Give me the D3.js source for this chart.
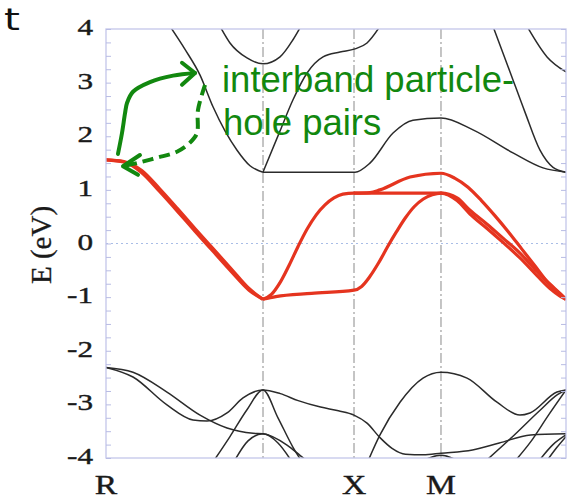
<!DOCTYPE html>
<html><head><meta charset="utf-8">
<script src="https://cdn.jsdelivr.net/npm/d3@7"></script>
<style>body{margin:0;background:#fff}</style>
</head><body><svg id="c" width="570" height="499"></svg>
<script>
// ---- data ----
const kPoints = [0, 1.7564, 2.7744, 3.7476, 5.146];          // R, Γ, X, M, Γ
const kLabels = ["R", "", "X", "M", ""];
const yTicks = [4, 3, 2, 1, 0, -1, -2, -3, -4];
const yLabels = ["4", "3", "2", "1", "0", "-1", "-2", "-3", "-4"];

const blackUpper = [
  [[0.716,4.05],[0.884,3.62],[1.052,3.14],[1.197,2.55],[1.331,2.1],[1.466,1.74],[1.611,1.45],[1.756,1.33]],
  [[1.275,4.05],[1.387,3.74],[1.577,3.46],[1.756,3.35],[1.947,3.48],[2.092,3.8],[2.17,4.02]],
  [[1.756,1.33],[1.947,2.1],[2.092,2.68],[2.249,3.18],[2.428,3.48],[2.618,3.57],[2.786,3.63],[2.92,3.74],[3.065,4.05]],
  [[1.756,1.33],[2.786,1.33],[2.953,1.5],[3.211,2.06],[3.434,2.3],[3.748,2.34],[4.106,2.12],[4.553,1.69],[4.889,1.41],[5.146,1.33]],
  [[4.329,4.05],[4.52,3.2],[4.687,2.45],[4.855,1.74],[5.001,1.42],[5.146,1.33]],
  [[4.71,4.05],[4.934,3.48],[5.146,3.2]]
];
const blackLower = [
  [[0,-2.31],[0.302,-2.49],[0.682,-3.01],[0.973,-3.29],[1.13,-3.31],[1.354,-3.16],[1.533,-2.88],[1.756,-2.73],[1.95,-2.8],[2.15,-2.93],[2.4,-3.05],[2.6,-3.12],[2.774,-3.2],[2.92,-3.35],[3.065,-3.62],[3.2,-3.82],[3.35,-3.93],[3.55,-3.94],[3.748,-3.91],[4.1,-3.85],[4.4,-3.72],[4.75,-3.57],[5.146,-3.55]],
  [[0,-2.31],[0.302,-2.4],[0.682,-2.77],[1.052,-3.2],[1.354,-3.44],[1.645,-3.54],[1.756,-3.55],[2.025,-3.76],[2.17,-3.95],[2.282,-4.1]],
  [[1.186,-4.1],[1.387,-3.6],[1.577,-3.1],[1.756,-2.73],[1.924,-3.25],[2.092,-3.8],[2.204,-4.1]],
  [[1.421,-4.1],[1.589,-3.68],[1.756,-3.55],[1.924,-3.72],[2.092,-4.1]],
  [[2.92,-4.1],[3.065,-3.57],[3.289,-2.96],[3.546,-2.51],[3.748,-2.4],[4.039,-2.51],[4.374,-2.96],[4.631,-3.2],[4.743,-3.16],[5.045,-2.77],[5.146,-2.73]],
  [[3.479,-4.1],[3.748,-3.95],[3.994,-4.1]],
  [[4.218,-4.1],[4.55,-3.6],[4.85,-3.12],[5.05,-2.82],[5.146,-2.73]],
  [[4.553,-4.1],[4.75,-3.7],[4.95,-3.2],[5.146,-2.73]],
  [[4.822,-4.1],[5.0,-3.75],[5.146,-3.57]],
  [[4.911,-4.1],[5.045,-3.8],[5.146,-3.6]]
];
const redBands = [
  [[0,1.56],[0.2,1.52],[0.4,1.32],[0.6,0.97],[0.8,0.6],[1.0,0.22],[1.2,-0.15],[1.4,-0.52],[1.6,-0.87],[1.756,-1.04]],
  [[0,1.56],[0.2,1.53],[0.4,1.36],[0.6,1.02],[0.8,0.65],[1.0,0.27],[1.2,-0.1],[1.4,-0.47],[1.6,-0.84],[1.756,-1.04]],
  [[1.756,-1.04],[1.85,-0.95],[1.95,-0.72],[2.05,-0.4],[2.15,-0.05],[2.25,0.27],[2.35,0.53],[2.45,0.72],[2.55,0.85],[2.65,0.92],[2.774,0.94],[3.748,0.94],[3.927,0.85],[4.072,0.62],[4.263,0.36],[4.441,0.1],[4.631,-0.18],[4.822,-0.52],[4.967,-0.76],[5.079,-0.93],[5.146,-1.04]],
  [[1.756,-1.04],[1.9,-0.99],[2.3,-0.93],[2.774,-0.87],[2.86,-0.8],[2.95,-0.62],[3.05,-0.36],[3.15,-0.06],[3.25,0.22],[3.35,0.48],[3.45,0.69],[3.55,0.83],[3.65,0.91],[3.748,0.94],[3.927,0.8],[4.072,0.55],[4.263,0.28],[4.441,0.02],[4.631,-0.27],[4.822,-0.6],[4.967,-0.84],[5.079,-0.98],[5.146,-1.04]],
  [[2.774,0.94],[2.953,0.95],[3.065,1.0],[3.401,1.24],[3.748,1.31],[3.9,1.22],[4.05,1.05],[4.2,0.8],[4.35,0.52],[4.5,0.22],[4.65,-0.1],[4.8,-0.42],[4.95,-0.74],[5.05,-0.9],[5.146,-1.04]]
];
const arrowSolid = [[0.134,1.67],[0.179,2.06],[0.213,2.43],[0.235,2.62],[0.302,2.83],[0.492,3.01],[0.75,3.13],[0.996,3.18]];
const arrowSolidHead = [[0.85,3.37],[0.996,3.18],[0.85,2.96]];
const arrowDashed = [[1.108,2.96],[1.029,2.49],[1.018,2.06],[0.94,1.88],[0.794,1.71],[0.571,1.6],[0.347,1.5],[0.19,1.44]];
const arrowDashedHead = [[0.38,1.65],[0.19,1.44],[0.358,1.28]];
const noteLines = ["interband particle-", "hole pairs"];
const notePos = [[1.298, 2.83], [1.309, 2.02]];

// ---- layout ----
const W = 570, H = 499;
const L = 106, R = 566, T = 29, B = 458;
const svg = d3.select("#c");
const x = d3.scaleLinear().domain([0, 5.146]).range([L, R]);
const y = d3.scaleLinear().domain([-4, 4]).range([B, T]);

svg.append("rect").attr("width", W).attr("height", H).attr("fill", "#fff");
svg.append("clipPath").attr("id", "clip").append("rect")
  .attr("x", L).attr("y", T).attr("width", R - L).attr("height", B - T);

// zero line
svg.append("line").attr("x1", L).attr("x2", R).attr("y1", y(0)).attr("y2", y(0))
  .attr("stroke", "#a9bde6").attr("stroke-width", 1.2).attr("stroke-dasharray", "2,3");

// symmetry lines
svg.selectAll("line.sym").data(kPoints.slice(1, 4)).enter().append("line")
  .attr("class", "sym").attr("x1", d => x(d)).attr("x2", d => x(d))
  .attr("y1", T).attr("y2", B).attr("stroke", "#8a8a8a").attr("stroke-width", 1)
  .attr("stroke-dasharray", "10,3,2,3");

const line = d3.line().x(d => x(d[0])).y(d => y(d[1])).curve(d3.curveMonotoneX);
const g = svg.append("g").attr("clip-path", "url(#clip)");
g.selectAll("path.bk").data(blackUpper.concat(blackLower)).enter().append("path")
  .attr("d", line).attr("fill", "none").attr("stroke", "#2b2b2b").attr("stroke-width", 1.5);
g.selectAll("path.rd").data(redBands).enter().append("path")
  .attr("d", line).attr("fill", "none").attr("stroke", "#e5341f").attr("stroke-width", 3.2);

// frame
svg.append("rect").attr("x", L).attr("y", T).attr("width", R - L).attr("height", B - T)
  .attr("fill", "none").attr("stroke", "#c4c6ea").attr("stroke-width", 1.3);

// axes ticks (inward, minor every 0.25)
const minor = d3.range(-4, 4.001, 0.25);
const axL = d3.axisRight(y).tickValues(minor).tickSize(5).tickFormat("");
const axR = d3.axisLeft(y).tickValues(minor).tickSize(5).tickFormat("");
[svg.append("g").attr("transform", `translate(${L},0)`).call(axL),
 svg.append("g").attr("transform", `translate(${R},0)`).call(axR)].forEach(a => {
  a.select(".domain").remove();
  a.selectAll("line").attr("stroke", "#b8bce4").attr("stroke-width", 1);
});

// y tick labels
svg.selectAll("text.yl").data(yTicks).enter().append("text")
  .attr("transform", (d) => `translate(93,${y(d) + 6}) scale(1.3,1)`)
  .attr("text-anchor", "end").attr("font-family", "Liberation Serif, Times New Roman, serif")
  .attr("font-size", 24).attr("fill", "#1a1a1a").attr("stroke", "#1a1a1a").attr("stroke-width", 0.4)
  .text((d, i) => yLabels[i]);

// x labels
svg.selectAll("text.xl").data(kPoints.map((k, i) => [k, kLabels[i]]).filter(d => d[1])).enter().append("text")
  .attr("transform", d => `translate(${x(d[0])},494) scale(1.2,1)`)
  .attr("text-anchor", "middle").attr("font-family", "Liberation Serif, Times New Roman, serif")
  .attr("font-size", 28).attr("fill", "#1a1a1a").attr("stroke", "#1a1a1a").attr("stroke-width", 0.4)
  .text(d => d[1]);

// y axis title
svg.append("text").attr("transform", `translate(51,245) rotate(-90)`)
  .attr("text-anchor", "middle").attr("font-family", "Liberation Serif, Times New Roman, serif")
  .attr("font-size", 29).attr("fill", "#1a1a1a").attr("stroke", "#1a1a1a").attr("stroke-width", 0.3)
  .text("E (eV)");

// stray letter from cropped slide title
svg.append("text").attr("transform", "translate(4,30) scale(1.35,1)")
  .attr("font-family", "DejaVu Sans, sans-serif").attr("font-size", 30).attr("fill", "#111").text("t");

// arrows
const green = "#12880f";
const aline = d3.line().x(d => x(d[0])).y(d => y(d[1])).curve(d3.curveCatmullRom);
const hline = d3.line().x(d => x(d[0])).y(d => y(d[1]));
svg.append("path").attr("d", aline(arrowSolid)).attr("fill", "none").attr("stroke", green)
  .attr("stroke-width", 4).attr("stroke-linecap", "round");
svg.append("path").attr("d", hline(arrowSolidHead)).attr("fill", "none").attr("stroke", green)
  .attr("stroke-width", 4).attr("stroke-linecap", "round").attr("stroke-linejoin", "round");
svg.append("path").attr("d", aline(arrowDashed)).attr("fill", "none").attr("stroke", green)
  .attr("stroke-width", 4).attr("stroke-dasharray", "11,6");
svg.append("path").attr("d", hline(arrowDashedHead)).attr("fill", "none").attr("stroke", green)
  .attr("stroke-width", 4).attr("stroke-linecap", "round").attr("stroke-linejoin", "round");

// annotation text
svg.selectAll("text.note").data(noteLines).enter().append("text")
  .attr("x", (d, i) => x(notePos[i][0])).attr("y", (d, i) => y(notePos[i][1]))
  .attr("font-family", "Liberation Sans, Arial, sans-serif").attr("font-size", 36.5)
  .attr("fill", green).text(d => d);
</script></body></html>
